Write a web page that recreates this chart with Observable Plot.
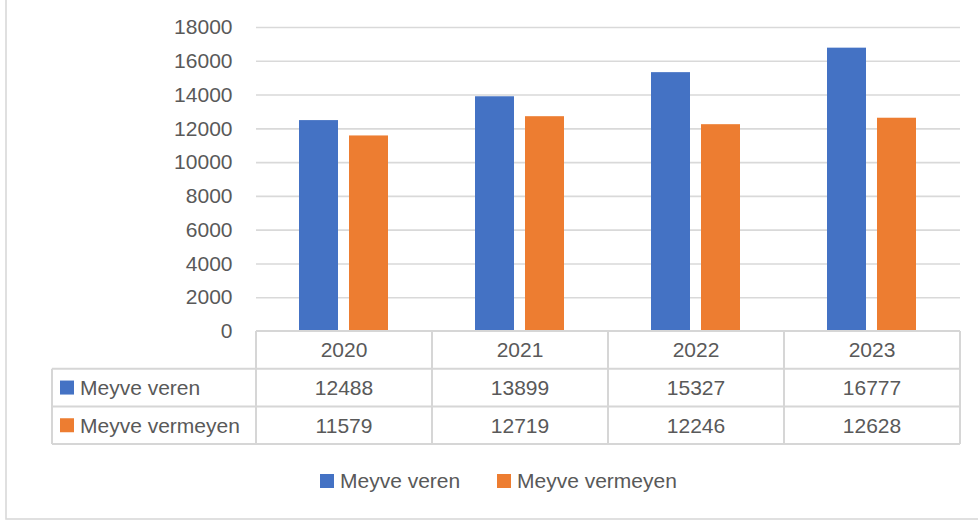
<!DOCTYPE html>
<html>
<head>
<meta charset="utf-8">
<script src="https://cdn.jsdelivr.net/npm/d3@7"></script>
<script src="https://cdn.jsdelivr.net/npm/@observablehq/plot@0.6"></script>
<style>
  html, body { margin: 0; padding: 0; background: #fff; }
  #chart { position: relative; width: 978px; height: 521px; overflow: hidden; }
  svg { font-family: "Liberation Sans", Arial, sans-serif; }
</style>
</head>
<body>
<div id="chart"></div>
<script>
const years = ["2020", "2021", "2022", "2023"];
const seriesNames = ["Meyve veren", "Meyve vermeyen"];
const meyveVeren = [12488, 13899, 15327, 16777];
const meyveVermeyen = [11579, 12719, 12246, 12628];
const yTicks = [0, 2000, 4000, 6000, 8000, 10000, 12000, 14000, 16000, 18000];
const colors = ["#4472C4", "#ED7D31"];

const data = years.flatMap((yr, i) => [
  {year: yr, series: seriesNames[0], value: meyveVeren[i]},
  {year: yr, series: seriesNames[1], value: meyveVermeyen[i]}
]);

const W = 978, H = 521;
const mTop = 27, mBottom = 190, mLeft = 256, mRight = 18;
const textColor = "#595959";
const lineColor = "#d9d9d9";
const fs = 21;

const plot = Plot.plot({
  width: W,
  height: H,
  marginTop: mTop,
  marginBottom: mBottom,
  marginLeft: mLeft,
  marginRight: mRight,
  style: {fontFamily: "'Liberation Sans', Arial, sans-serif", fontSize: fs + "px", color: textColor, background: "transparent", overflow: "visible"},
  x: {domain: years, padding: 0, axis: null},
  y: {domain: [0, 18000], ticks: yTicks, axis: null},
  color: {domain: seriesNames, range: colors},
  marks: [
    Plot.gridY(yTicks.filter(d => d > 0), {stroke: lineColor, strokeOpacity: 1, strokeWidth: 1.6}),
    Plot.axisY({ticks: yTicks, tickSize: 0, tickPadding: 24, tickFormat: d => String(d), fontSize: fs, fill: textColor, label: null}),
    Plot.barY(data.filter(d => d.series === seriesNames[0]), {x: "year", y: "value", fill: "series", insetLeft: 43, insetRight: 94}),
    Plot.barY(data.filter(d => d.series === seriesNames[1]), {x: "year", y: "value", fill: "series", insetLeft: 93, insetRight: 44})
  ]
});

document.getElementById("chart").appendChild(plot);

// Data table and legend, positioned from the plot's own scales
const xs = plot.scale("x");
const ys = plot.scale("y");
const svg = d3.select(plot);
const bw = xs.bandwidth;
const x0 = xs.apply(years[0]);
const xEnd = xs.apply(years[years.length - 1]) + bw;
const yBase = ys.apply(0);
const rowH = 37.7;
const labelLeft = 52;
const g = svg.append("g");

// outer border
g.append("rect").attr("x", 6).attr("y", -5).attr("width", 1000).attr("height", 519 + 5)
  .attr("fill", "none").attr("stroke", lineColor).attr("stroke-width", 1.6);

const rows = [meyveVeren, meyveVermeyen];
const lines = g.append("g").attr("stroke", "#d6d6d6").attr("stroke-width", 2);
lines.append("line").attr("x1", x0).attr("x2", xEnd).attr("y1", yBase).attr("y2", yBase);
for (let r = 1; r <= 3; r++) {
  lines.append("line").attr("x1", labelLeft).attr("x2", xEnd)
    .attr("y1", yBase + r * rowH).attr("y2", yBase + r * rowH);
}
years.forEach(yr => {
  const xl = xs.apply(yr);
  lines.append("line").attr("x1", xl).attr("x2", xl).attr("y1", yBase).attr("y2", yBase + 3 * rowH);
});
lines.append("line").attr("x1", xEnd).attr("x2", xEnd).attr("y1", yBase).attr("y2", yBase + 3 * rowH);
lines.append("line").attr("x1", labelLeft).attr("x2", labelLeft).attr("y1", yBase + rowH).attr("y2", yBase + 3 * rowH);

const txt = g.append("g").attr("fill", textColor).attr("font-size", fs)
  .attr("font-family", "'Liberation Sans', Arial, sans-serif").attr("text-anchor", "start");
years.forEach((yr, i) => {
  const cx = xs.apply(yr) + bw / 2;
  txt.append("text").attr("x", cx).attr("y", yBase + rowH * 0.5).attr("dy", "0.35em")
    .attr("text-anchor", "middle").text(yr);
  rows.forEach((arr, r) => {
    txt.append("text").attr("x", cx).attr("y", yBase + rowH * (1.5 + r)).attr("dy", "0.35em")
      .attr("text-anchor", "middle").text(String(arr[i]));
  });
});
seriesNames.forEach((name, r) => {
  const cy = yBase + rowH * (1.5 + r);
  g.append("rect").attr("x", 60).attr("y", cy - 7).attr("width", 14).attr("height", 14).attr("fill", colors[r]);
  txt.append("text").attr("x", 80).attr("y", cy).attr("dy", "0.35em").attr("text-anchor", "start").text(name);
});

// bottom legend
const legY = 481;
const legX = [320, 497];
seriesNames.forEach((name, r) => {
  g.append("rect").attr("x", legX[r]).attr("y", legY - 7).attr("width", 14).attr("height", 14).attr("fill", colors[r]);
  txt.append("text").attr("x", legX[r] + 20).attr("y", legY).attr("dy", "0.35em").attr("text-anchor", "start").text(name);
});
</script>
</body>
</html>
